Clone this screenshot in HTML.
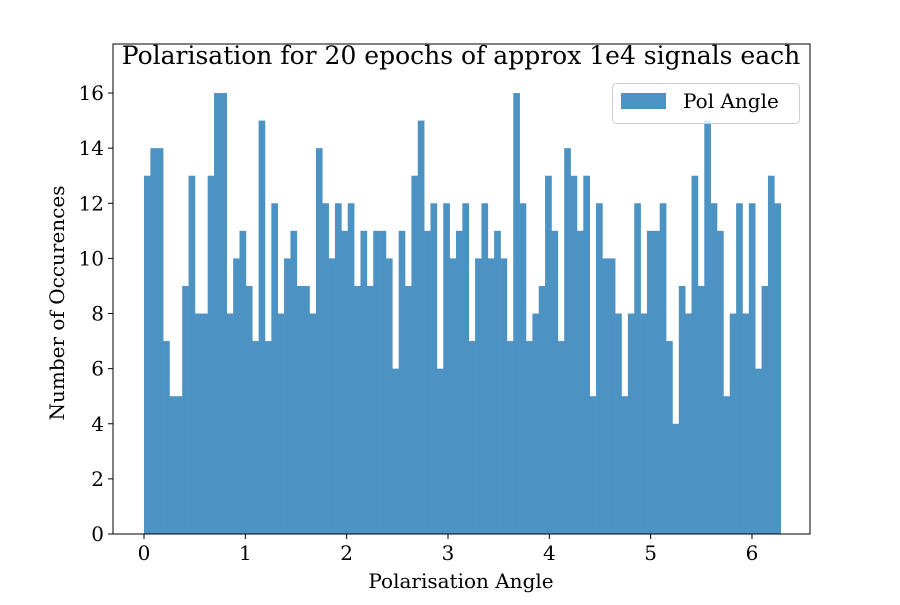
<!DOCTYPE html>
<html><head><meta charset="utf-8"><style>
body{margin:0;background:#fff}
svg text{font-family:"DejaVu Serif","Liberation Serif",serif;fill:#000}
</style></head><body>
<svg id="chart" width="900" height="600" xmlns="http://www.w3.org/2000/svg">
<rect width="900" height="600" fill="#fff"/>
<text x="461" y="64" font-size="25" text-anchor="middle">Polarisation for 20 epochs of approx 1e4 signals each</text>
<g id="bars"></g>
<g id="axes"></g>
<text x="461" y="588" font-size="20" text-anchor="middle">Polarisation Angle</text>
<text transform="translate(64,303) rotate(-90)" font-size="20" text-anchor="middle">Number of Occurences</text>
<g>
<rect x="612.5" y="83.5" width="187" height="40" rx="4" fill="#fff" fill-opacity="0.8" stroke="#ccc"/>
<rect x="621" y="93" width="45" height="16" fill="#4c92c3"/>
<text x="683" y="108" font-size="20">Pol Angle</text>
</g>
</svg>
<script>
const counts = [13,14,14,7,5,5,9,13,8,8,13,16,16,8,10,11,9,7,15,7,12,8,10,11,9,9,
8,14,12,10,12,11,12,9,11,9,11,11,10,6,11,9,13,15,11,12,6,12,10,11,12,7,
10,12,10,11,10,7,16,12,7,8,9,13,11,7,14,13,11,13,5,12,10,10,8,5,
8,12,8,11,11,12,7,4,9,8,13,9,15,12,11,5,8,12,8,12,6,9,13,12];
const xMin = 0;
const xMax = 2*Math.PI;
const xTicks = [0,1,2,3,4,5,6];
const yTicks = [0,2,4,6,8,10,12,14,16];

const L=113,R=810,T=44,B=534;
const xs = v => 144 + v*101.33;
const ys = v => 534 - v*27.56;
const NS="http://www.w3.org/2000/svg";
const bars=document.getElementById('bars');
const bw=(xMax-xMin)/counts.length;
counts.forEach((c,i)=>{
  const r=document.createElementNS(NS,'rect');
  const x0=xs(xMin+i*bw), x1=xs(xMin+(i+1)*bw);
  r.setAttribute('x',x0);r.setAttribute('width',x1-x0+0.3);
  r.setAttribute('y',ys(c));r.setAttribute('height',ys(0)-ys(c));
  r.setAttribute('fill','#4c92c3');
  
  
  bars.appendChild(r);
});
const ax=document.getElementById('axes');
let h='<rect x="'+L+'" y="'+T+'" width="'+(R-L)+'" height="'+(B-T)+'" fill="none" stroke="#000" stroke-width="1"/>';
ax.innerHTML=h;
xTicks.forEach(t=>{
  const x=xs(t);
  const l=document.createElementNS(NS,'line');
  l.setAttribute('x1',x);l.setAttribute('x2',x);l.setAttribute('y1',B);l.setAttribute('y2',B+5);l.setAttribute('stroke','#000');
  
  
  ax.appendChild(l);
  const tx=document.createElementNS(NS,'text');
  tx.setAttribute('x',x);tx.setAttribute('y',B+26);tx.setAttribute('font-size','20');tx.setAttribute('text-anchor','middle');
  tx.textContent=t;
  
  
  ax.appendChild(tx);
});
yTicks.forEach(t=>{
  const y=ys(t);
  const l=document.createElementNS(NS,'line');
  l.setAttribute('x1',L-5);l.setAttribute('x2',L);l.setAttribute('y1',y);l.setAttribute('y2',y);l.setAttribute('stroke','#000');
  
  
  ax.appendChild(l);
  const tx=document.createElementNS(NS,'text');
  tx.setAttribute('x',L-9);tx.setAttribute('y',y+7);tx.setAttribute('font-size','20');tx.setAttribute('text-anchor','end');
  tx.textContent=t;
  
  
  ax.appendChild(tx);
});
</script>
</body></html>
